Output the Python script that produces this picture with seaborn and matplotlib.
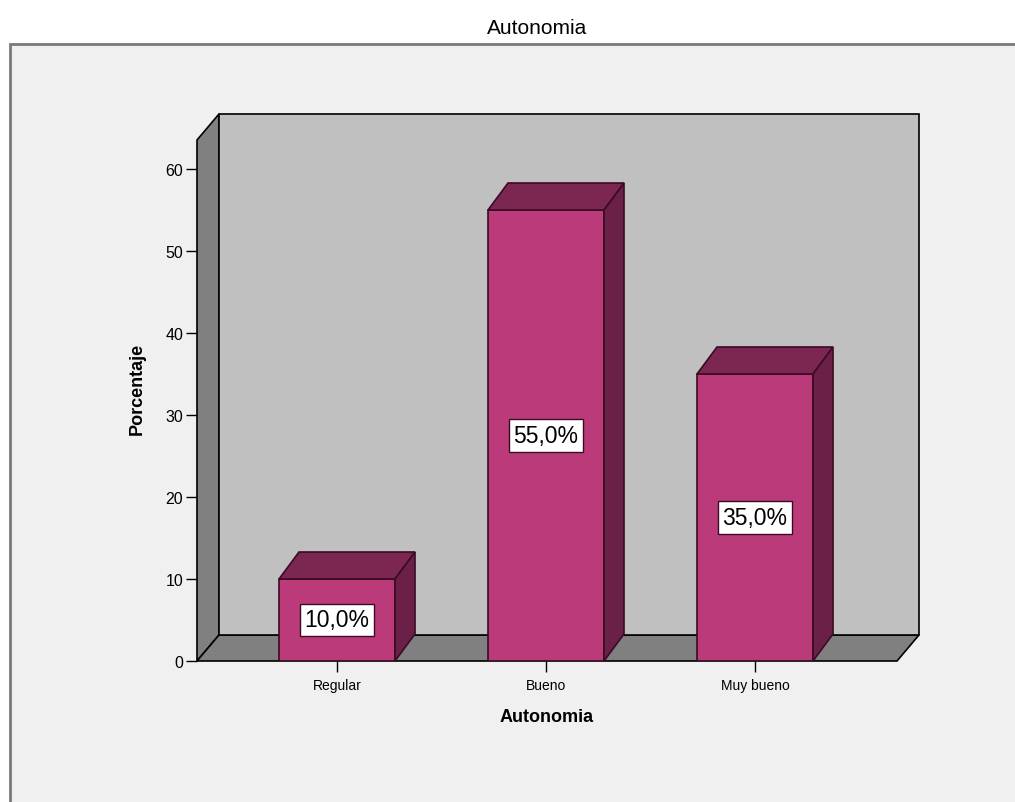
import matplotlib
matplotlib.use("Agg")
import matplotlib.pyplot as plt
from matplotlib.patches import Polygon, Rectangle
import seaborn as sns
import pandas as pd

categories = ["Regular", "Bueno", "Muy bueno"]
percentages = [10.0, 55.0, 35.0]
value_labels = ["10,0%", "55,0%", "35,0%"]
y_ticks = [0, 10, 20, 30, 40, 50, 60]

df = pd.DataFrame({"Autonomia": categories, "Porcentaje": percentages})

sns.set_theme(style="white")
plt.rcParams["font.family"] = ["Liberation Sans", "DejaVu Sans"]
plt.rcParams["text.color"] = "black"
plt.rcParams["axes.labelcolor"] = "black"
plt.rcParams["xtick.color"] = "black"
plt.rcParams["ytick.color"] = "black"

W, H = 1015, 803
fig = plt.figure(figsize=(W / 100, H / 100), dpi=100)
fig.patch.set_facecolor("white")

# outer chart frame (open at the right and bottom edges of the image)
frame = Rectangle((10 / W, -0.1), 1.2, (H - 45) / H + 0.1, transform=fig.transFigure,
                  facecolor="#f0f0f0", edgecolor="#7a7a7a", linewidth=2.0, zorder=-5)
fig.patches.append(frame)

fig.text(537 / W, 1 - 28 / H, "Autonomia", ha="center", va="center",
         fontsize=15, color="black")

# axes: front floor line at y=662px, 10 units = 82px; x from 197px to 897px
x_left_px, x_right_px = 197, 897
y0_px, ytop_px = 662, 115
ax = fig.add_axes([x_left_px / W, (H - y0_px) / H,
                   (x_right_px - x_left_px) / W, (y0_px - ytop_px) / H])
ax.set_facecolor("none")
ax.set_zorder(2)

px_per_unit_x = 209.0
x0_data = -(337 - x_left_px) / px_per_unit_x
x1_data = x0_data + (x_right_px - x_left_px) / px_per_unit_x
px_per_unit_y = 8.2
ytop = (y0_px - ytop_px) / px_per_unit_y

dx = 22 / px_per_unit_x
dy = 26 / px_per_unit_y
wall_top = ytop - dy

edge = "black"
# left wall, floor, back wall
ax.add_patch(Polygon([(x0_data, 0), (x0_data, wall_top), (x0_data + dx, wall_top + dy),
                      (x0_data + dx, dy)], closed=True, facecolor="#808080",
                     edgecolor=edge, linewidth=1.2, clip_on=False, zorder=1))
ax.add_patch(Polygon([(x0_data, 0), (x1_data, 0), (x1_data + dx, dy), (x0_data + dx, dy)],
                     closed=True, facecolor="#808080", edgecolor=edge, linewidth=1.2,
                     clip_on=False, zorder=1))
ax.add_patch(Polygon([(x0_data + dx, dy), (x1_data + dx, dy), (x1_data + dx, wall_top + dy),
                      (x0_data + dx, wall_top + dy)], closed=True, facecolor="#c0c0c0",
                     edgecolor=edge, linewidth=1.2, clip_on=False, zorder=1))

front_color = "#bb3b7a"
top_color = "#7c2752"
side_color = "#6b2147"
bar_edge = "#3a0b22"

sns.barplot(data=df, x="Autonomia", y="Porcentaje", order=categories, ax=ax,
            color=front_color, saturation=1, width=116 / px_per_unit_x,
            edgecolor=bar_edge, linewidth=1.2)

bdx = 20 / px_per_unit_x
bdy = 27 / px_per_unit_y
bars = [p for p in ax.patches if isinstance(p, Rectangle)]
for bar, lab in zip(bars, value_labels):
    x = bar.get_x()
    w = bar.get_width()
    h = bar.get_height()
    bar.set_zorder(3)
    ax.add_patch(Polygon([(x, h), (x + w, h), (x + w + bdx, h + bdy), (x + bdx, h + bdy)],
                         closed=True, facecolor=top_color, edgecolor=bar_edge,
                         linewidth=1.2, clip_on=False, zorder=3))
    ax.add_patch(Polygon([(x + w, 0), (x + w, h), (x + w + bdx, h + bdy), (x + w + bdx, bdy)],
                         closed=True, facecolor=side_color, edgecolor=bar_edge,
                         linewidth=1.2, clip_on=False, zorder=3))
    ax.text(x + w / 2, h / 2, lab, ha="center", va="center", fontsize=16.5, color="black",
            zorder=5,
            bbox=dict(boxstyle="square,pad=0.2", facecolor="white", edgecolor=bar_edge,
                      linewidth=1.0))

ax.set_xlim(x0_data, x1_data)
ax.set_ylim(0, ytop)

for s in ax.spines.values():
    s.set_visible(False)

ax.set_yticks(y_ticks)
ax.set_yticklabels([str(t) for t in y_ticks], fontsize=11.5)
ax.tick_params(axis="y", left=True, length=8, width=1, color="black", pad=2)
ax.tick_params(axis="x", bottom=True, length=8, width=1, color="black", pad=4, labelsize=10)

ax.set_xlabel("Autonomia", fontsize=13, fontweight="bold", labelpad=12)
ax.set_ylabel("Porcentaje", fontsize=13, fontweight="bold", labelpad=14)

fig.savefig("out.png", dpi=100)
